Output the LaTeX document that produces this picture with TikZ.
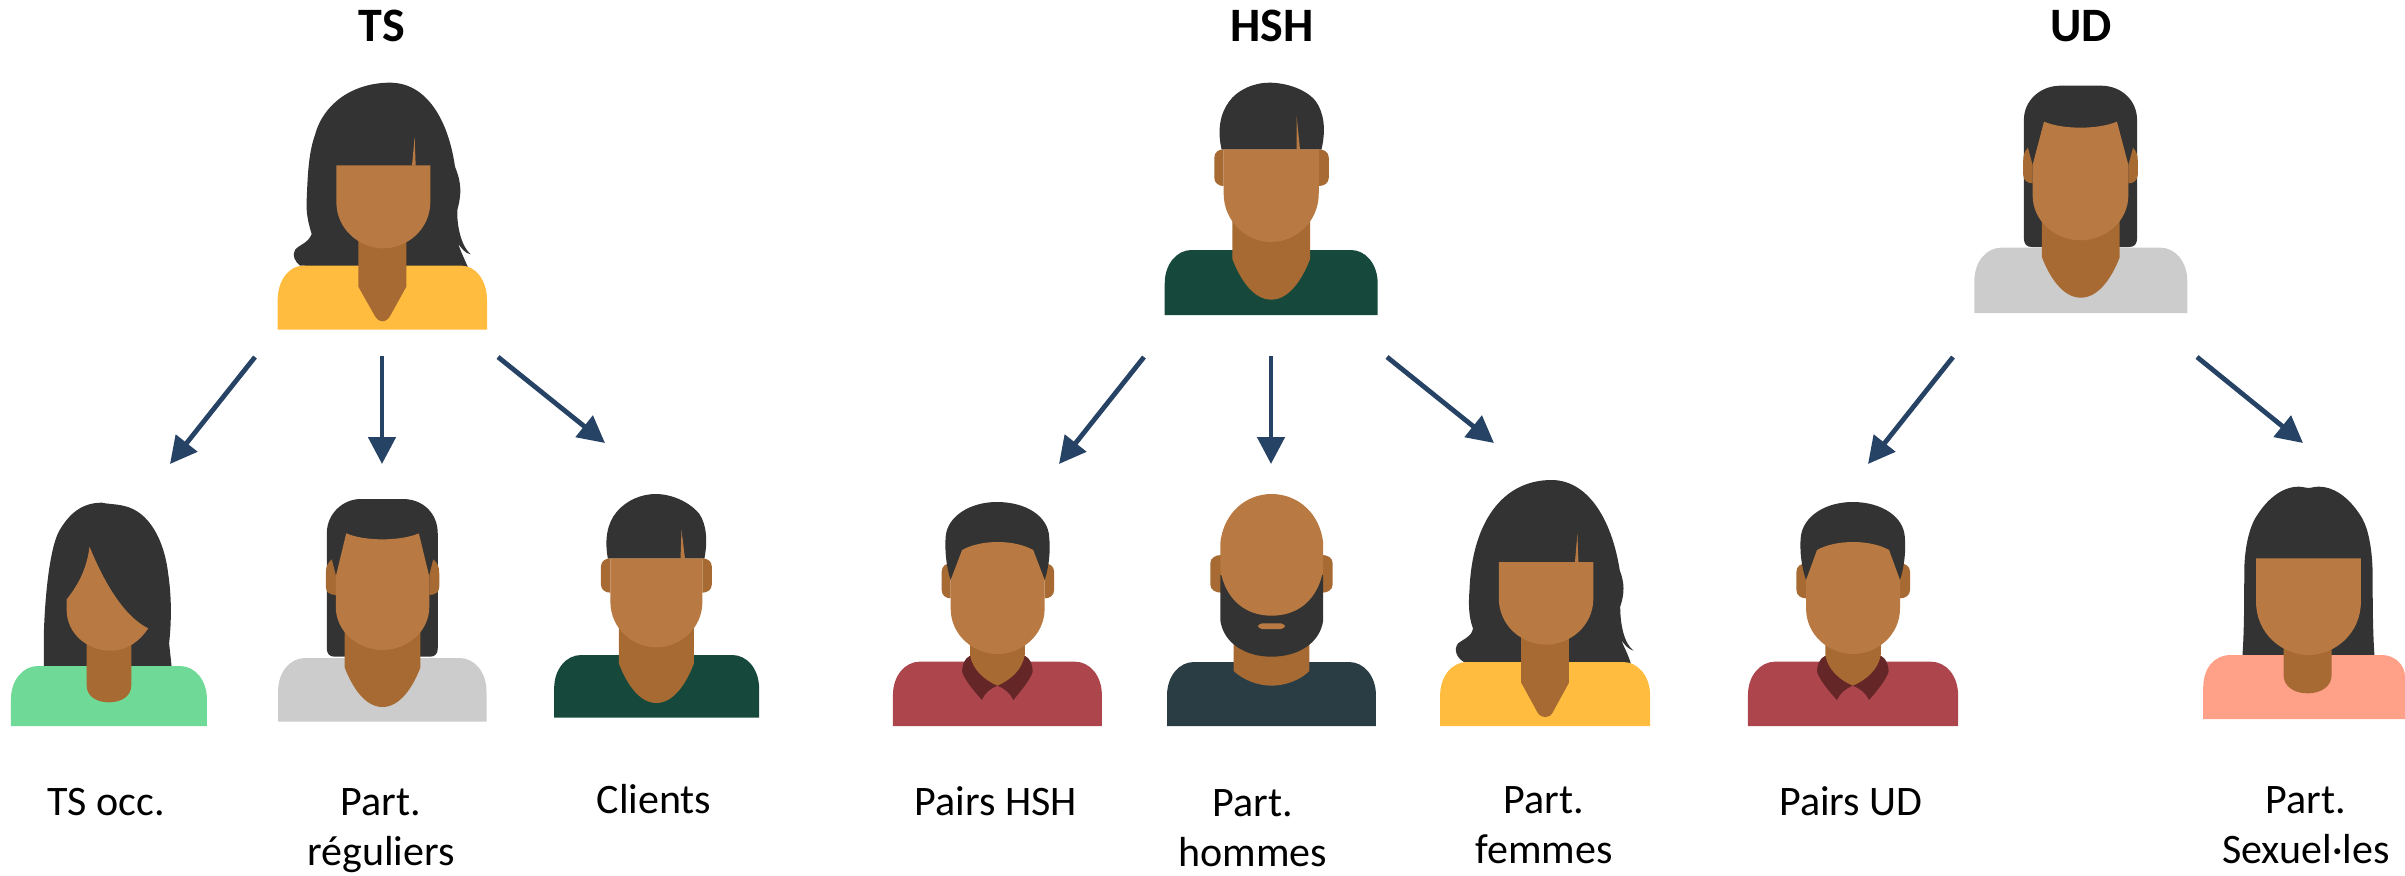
\documentclass[tikz,border=0pt]{standalone}
\usepackage{fontspec}
\setmainfont{Carlito}
\usetikzlibrary{arrows.meta}
\definecolor{hair}{HTML}{333333}
\definecolor{skin}{HTML}{B87A42}
\definecolor{neck}{HTML}{A66A32}
\definecolor{yellowtop}{HTML}{FFBC3E}
\definecolor{greentop}{HTML}{6FDA97}
\definecolor{greytop}{HTML}{CCCCCC}
\definecolor{pinetop}{HTML}{16493C}
\definecolor{redtop}{HTML}{AD464C}
\definecolor{collar}{HTML}{642626}
\definecolor{navytop}{HTML}{2A3D44}
\definecolor{pinktop}{HTML}{FFA088}
\definecolor{arrowblue}{HTML}{264365}
\tikzset{
  zoomA/.style={shift={(240,60)},xscale=.33333,yscale=.33333},
  zoomB/.style={shift={(0,480)},xscale=.49745,yscale=.33333},
  zoomC/.style={shift={(880,480)},xscale=.49745,yscale=.33333},
  zoomD/.style={shift={(1720,480)},xscale=.43686,yscale=.33333},
  zoomE/.style={shift={(1150,60)},xscale=.66964,yscale=.33333},
  hairfill/.style={fill=hair},
  skinfill/.style={fill=skin},
  neckfill/.style={fill=neck},
  link/.style={draw=arrowblue,line width=2.4pt,-{Triangle[length=13.4pt,width=13.4pt]},fill=arrowblue},
  label/.style={font=\fontsize{21}{25}\selectfont,align=center,anchor=base,inner sep=0pt},
  title/.style={font=\fontsize{24}{28}\selectfont\bfseries,anchor=base,inner sep=0pt}
}
% shirt: colour, left, right, top, bottom, corner-x, corner-y
\newcommand{\shirtshape}[7]{\fill[#1] (#2,#5) -- (#2,{#4+#7}) .. controls (#2,{#4+.42*#7}) and ({#2+.45*#6},#4) .. ({#2+#6},#4) -- ({#3-#6},#4) .. controls ({#3-.45*#6},#4) and (#3,{#4+.42*#7}) .. (#3,{#4+#7}) -- (#3,#5) -- cycle;}
% ear: near x, far x, top, bottom
\newcommand{\earshape}[4]{\fill[neckfill] (#1,#3) .. controls ({.5*(#1+#2)},#3) and (#2,{#3+8}) .. (#2,{#3+25}) -- (#2,{#4-25}) .. controls (#2,{#4-8}) and ({.5*(#1+#2)},#4) .. (#1,#4) -- cycle;}
% pointed neck: left, right, top, shoulder y, tip y
\newcommand{\vneck}[5]{\fill[neckfill] (#1,#3) -- (#1,#4) .. controls ({#1+.1*(#2-#1)},{#4+.5*(#5-#4)}) and ({#1+.27*(#2-#1)},#5) .. ({.5*(#1+#2)},#5) .. controls ({#2-.27*(#2-#1)},#5) and ({#2-.1*(#2-#1)},{#4+.5*(#5-#4)}) .. (#2,#4) -- (#2,#3) -- cycle;}
% flat-top face: left, right, top, straight until, bottom
\newcommand{\flatface}[5]{\fill[skinfill] (#1,#3) -- (#2,#3) -- (#2,#4) .. controls (#2,{#4+.6*(#5-#4)}) and ({#2-.25*(#2-#1)},#5) .. ({.5*(#1+#2)},#5) .. controls ({#1+.25*(#2-#1)},#5) and (#1,{#4+.6*(#5-#4)}) .. (#1,#4) -- cycle;}
% face under a curved hairline: left, right, tips y, notch-x inset, notch y, hairline control y, straight until, bottom
\newcommand{\notchface}[8]{\fill[skinfill] (#1,#3) -- ({#1+#4},#5) .. controls ({#1+#4+.2*(#2-#1)},#6) and ({#2-#4-.2*(#2-#1)},#6) .. ({#2-#4},#5) -- (#2,#3) -- (#2,#7) .. controls (#2,{#7+.6*(#8-#7)}) and ({#2-.25*(#2-#1)},#8) .. ({.5*(#1+#2)},#8) .. controls ({#1+.25*(#2-#1)},#8) and (#1,{#7+.6*(#8-#7)}) .. (#1,#7) -- cycle;}
\begin{document}
\begin{tikzpicture}[x=.5pt,y=-.5pt]
\useasboundingbox (0,0) rectangle (2405,875);

% --- TS (top left)
\begin{scope}[zoomA]
\fill[hairfill] (180,617) .. controls (165,605) and (155,585) .. (165,570) .. controls (175,555) and (205,550) .. (215,522) .. controls (205,490) and (198,460) .. (200,420) .. controls (203,350) and (205,280) .. (225,225) .. controls (250,130) and (340,68) .. (450,68) .. controls (560,68) and (625,180) .. (645,320) .. controls (665,370) and (665,400) .. (652,450) .. controls (650,500) and (665,560) .. (692,583) .. controls (675,580) and (665,565) .. (655,552) .. controls (662,575) and (675,600) .. (685,625) -- cycle;
\shirtshape{yellowtop}{113}{741}{617}{809}{77}{103}
\fill[neckfill] (355,500) -- (355,680) -- (403,765) .. controls (415,790) and (440,790) .. (452,765) -- (499,680) -- (499,500) -- cycle;
\flatface{289}{571}{316}{425}{565}
\fill[skinfill] (524,230) -- (516,317) -- (527,317) -- cycle;
\end{scope}

% --- TS occ.
\begin{scope}[zoomB]
\fill[hairfill] (88,560) -- (88,470) .. controls (90,350) and (100,200) .. (120,150) .. controls (140,100) and (165,68) .. (205,68) .. controls (215,72) and (235,72) .. (250,78) .. controls (300,95) and (330,180) .. (338,280) .. controls (345,350) and (345,420) .. (340,490) -- (345,560) -- cycle;
\shirtshape{greentop}{22}{416}{558}{738}{54}{100}
\fill[neckfill] (174,470) -- (174,615) .. controls (174,650) and (195,667) .. (219,667) .. controls (243,667) and (264,650) .. (264,615) -- (264,470) -- cycle;
\fill[skinfill] (180,200) .. controls (175,260) and (160,310) .. (134,358) -- (134,390) .. controls (134,460) and (175,512) .. (222,512) .. controls (255,512) and (280,485) .. (298,445) .. controls (250,410) and (210,310) .. (180,200) -- cycle;
\end{scope}

% --- Part. reguliers
\begin{scope}[zoomB]
\fill[hairfill] (657,505) -- (657,160) .. controls (657,100) and (690,57) .. (725,57) -- (810,57) .. controls (850,57) and (880,100) .. (880,160) -- (880,505) .. controls (880,520) and (875,530) .. (865,530) -- (672,530) .. controls (662,530) and (657,520) .. (657,505) -- cycle;
\shirtshape{greytop}{559}{978}{534}{725}{54}{100}
\fill[neckfill] (667,238) .. controls (658,250) and (655,260) .. (655,280) -- (655,320) .. controls (655,335) and (662,345) .. (675,345) -- (675,285) -- cycle;
\fill[neckfill] (871,238) .. controls (880,250) and (883,260) .. (883,280) -- (883,320) .. controls (883,335) and (876,345) .. (863,345) -- (863,285) -- cycle;
\vneck{693}{845}{440}{563}{681}
\notchface{675}{863}{290}{21}{160}{184}{380}{510}
\end{scope}

% --- Clients
\begin{scope}[zoomB]
\fill[hairfill] (1222,236) .. controls (1215,180) and (1220,130) .. (1240,95) .. controls (1260,60) and (1290,42) .. (1318,42) .. controls (1350,42) and (1385,65) .. (1405,100) .. controls (1422,135) and (1422,190) .. (1416,236) -- cycle;
\shirtshape{pinetop}{1114}{1526}{525}{713}{54}{100}
\earshape{1227}{1208}{235}{338}
\earshape{1412}{1431}{235}{338}
\vneck{1244}{1395}{440}{550}{669}
\flatface{1227}{1412}{235}{365}{502}
\fill[skinfill] (1370,150) -- (1368,236) -- (1377,236) -- cycle;
\end{scope}

% --- HSH (top middle)
\begin{scope}[zoomE]
\fill[hairfill] (107,269) .. controls (100,210) and (105,160) .. (118,125) .. controls (130,90) and (155,68) .. (178,68) .. controls (205,68) and (235,90) .. (248,125) .. controls (260,160) and (263,210) .. (256,269) -- cycle;
\shirtshape{pinetop}{22}{340}{570}{765}{40}{100}
\earshape{110}{96}{268}{378}
\earshape{252}{267}{268}{378}
\vneck{123}{239}{450}{597}{719}
\flatface{110}{252}{268}{400}{546}
\fill[skinfill] (219,170) -- (219,269) -- (224,269) -- cycle;
\end{scope}

% --- UD (top right)
\begin{scope}[zoomE]
\fill[hairfill] (1305,535) -- (1305,180) .. controls (1305,120) and (1330,77) .. (1360,77) -- (1420,77) .. controls (1450,77) and (1474,120) .. (1474,180) -- (1474,535) .. controls (1474,552) and (1470,561) .. (1462,561) -- (1317,561) .. controls (1309,561) and (1305,552) .. (1305,535) -- cycle;
\shirtshape{greytop}{1231}{1549}{563}{759}{40}{100}
\fill[neckfill] (1311,263) .. controls (1306,275) and (1304,285) .. (1304,300) -- (1304,345) .. controls (1304,360) and (1310,370) .. (1318,370) -- (1318,315) -- cycle;
\fill[neckfill] (1468,263) .. controls (1473,275) and (1475,285) .. (1475,300) -- (1475,345) .. controls (1475,360) and (1469,370) .. (1461,370) -- (1461,315) -- cycle;
\vneck{1332}{1448}{450}{592}{713}
\notchface{1318}{1461}{315}{17}{185}{209}{405}{541}
\end{scope}

% --- Pairs HSH
\begin{scope}[zoomC]
\shirtshape{redtop}{26}{446}{545}{738}{54}{100}
\fill[collar] (180,528) .. controls (170,535) and (165,555) .. (165,575) .. controls (170,600) and (190,635) .. (205,660) .. controls (210,640) and (222,625) .. (236,617) .. controls (250,625) and (262,640) .. (268,660) .. controls (282,635) and (302,600) .. (307,575) .. controls (307,555) and (302,535) .. (292,528) -- cycle;
\fill[neckfill] (181,480) -- (181,525) .. controls (186,570) and (210,600) .. (236,617) .. controls (262,600) and (286,570) .. (291,525) -- (291,480) -- cycle;
\earshape{142}{124}{250}{355}
\earshape{331}{350}{250}{355}
\fill[hairfill] (142,300) .. controls (133,260) and (130,210) .. (132,170) .. controls (135,110) and (180,66) .. (235,66) .. controls (295,66) and (338,110) .. (340,170) .. controls (343,210) and (340,260) .. (331,300) -- (300,300) -- (170,300) -- cycle;
\notchface{142}{331}{300}{23}{210}{178}{385}{522}
\end{scope}

% --- Part. hommes
\begin{scope}[zoomC]
\shirtshape{navytop}{577}{997}{546}{738}{54}{100}
\fill[neckfill] (711,480) -- (711,573) .. controls (730,600) and (760,617) .. (787,617) .. controls (815,617) and (845,600) .. (863,573) -- (863,480) -- cycle;
\earshape{686}{664}{225}{338}
\earshape{889}{910}{225}{338}
\fill[hairfill] (684,285) -- (684,420) .. controls (690,490) and (735,530) .. (787,530) .. controls (840,530) and (885,490) .. (891,420) -- (891,285) -- cycle;
\fill[skinfill] (684,190) .. controls (690,100) and (735,42) .. (787,42) .. controls (840,42) and (885,100) .. (891,190) -- (891,270) .. controls (880,360) and (840,407) .. (787,407) .. controls (735,407) and (695,360) .. (684,270) -- cycle;
\fill[skinfill,rounded corners=2pt] (760,430) rectangle (814,447);
\end{scope}

% --- Part. femmes
\begin{scope}[zoomC]
\fill[hairfill] (1175,547) .. controls (1160,535) and (1152,510) .. (1162,490) .. controls (1172,478) and (1190,470) .. (1192,445) .. controls (1183,410) and (1183,370) .. (1185,330) .. controls (1190,130) and (1250,0) .. (1350,0) .. controls (1420,0) and (1470,110) .. (1487,270) .. controls (1497,310) and (1497,340) .. (1488,380) .. controls (1488,430) and (1495,490) .. (1515,512) .. controls (1505,508) and (1497,495) .. (1490,480) .. controls (1495,500) and (1505,525) .. (1510,555) -- cycle;
\shirtshape{yellowtop}{1126}{1548}{546}{738}{54}{100}
\fill[neckfill] (1289,470) -- (1289,608) -- (1322,698) .. controls (1330,716) and (1345,716) .. (1352,698) -- (1385,608) -- (1385,470) -- cycle;
\flatface{1244}{1434}{246}{355}{494}
\fill[skinfill] (1402,160) -- (1397,247) -- (1404,247) -- cycle;
\end{scope}

% --- Pairs UD
\begin{scope}[zoomD]
\shirtshape{redtop}{64}{545}{545}{738}{62}{100}
\fill[collar] (240,528) .. controls (228,535) and (222,555) .. (222,575) .. controls (228,600) and (250,635) .. (268,660) .. controls (274,640) and (288,625) .. (304,617) .. controls (320,625) and (335,640) .. (341,660) .. controls (358,635) and (380,600) .. (386,575) .. controls (386,555) and (380,535) .. (369,528) -- cycle;
\fill[neckfill] (241,480) -- (241,525) .. controls (247,570) and (274,600) .. (304,617) .. controls (334,600) and (362,570) .. (368,525) -- (368,480) -- cycle;
\earshape{197}{175}{250}{355}
\earshape{412}{435}{250}{355}
\fill[hairfill] (197,300) .. controls (186,260) and (182,210) .. (185,170) .. controls (190,110) and (240,66) .. (304,66) .. controls (370,66) and (420,110) .. (423,170) .. controls (426,210) and (422,260) .. (412,300) -- (380,300) -- (230,300) -- cycle;
\notchface{197}{412}{300}{25}{210}{178}{385}{522}
\end{scope}

% --- Part. Sexuel.les
\begin{scope}[zoomD]
\fill[hairfill] (1196,525) .. controls (1200,450) and (1200,350) .. (1200,280) .. controls (1200,210) and (1210,150) .. (1225,115) .. controls (1250,60) and (1285,20) .. (1325,20) .. controls (1335,20) and (1340,24) .. (1347,24) .. controls (1352,24) and (1360,20) .. (1370,20) .. controls (1410,20) and (1445,60) .. (1470,115) .. controls (1485,150) and (1493,210) .. (1494,280) .. controls (1494,350) and (1494,450) .. (1498,525) -- cycle;
\fill[pinktop] (1106,717) -- (1106,625) .. controls (1106,565) and (1130,525) .. (1170,525) -- (1515,525) .. controls (1545,525) and (1568,555) .. (1568,590) -- (1568,717) -- cycle;
\fill[neckfill] (1290,480) -- (1290,585) .. controls (1290,620) and (1315,640) .. (1345,640) .. controls (1375,640) and (1400,620) .. (1400,585) -- (1400,480) -- cycle;
\flatface{1227}{1467}{235}{365}{525}
\end{scope}

% --- titles
\node[title] (tTS)  at (382,41)  {TS};
\node[title] (tHSH) at (1272,41) {HSH};
\node[title] (tUD)  at (2081,41) {UD};

% --- labels (anchored on the last line's baseline)
\node[label] (lOcc)  at (106,815)  {TS occ.};
\node[label] (lReg)  at (381,865)  {Part.\\réguliers};
\node[label] (lCli)  at (654,813)  {Clients};
\node[label] (lPHSH) at (996,815)  {Pairs HSH};
\node[label] (lHom)  at (1253,866) {Part.\\hommes};
\node[label] (lFem)  at (1544,863) {Part.\\femmes};
\node[label] (lPUD)  at (1851,815) {Pairs UD};
\node[label] (lSex)  at (2306,863) {Part.\\Sexuel·les};

% --- connector ends
\coordinate (tsA) at (255,357);   \coordinate (occ) at (170,464);
\coordinate (tsB) at (382,356);   \coordinate (reg) at (382,464);
\coordinate (tsC) at (498,357);   \coordinate (cli) at (605,443);
\coordinate (hsA) at (1144,357);  \coordinate (pai) at (1059,464);
\coordinate (hsB) at (1271,356);  \coordinate (hom) at (1271,464);
\coordinate (hsC) at (1387,357);  \coordinate (fem) at (1494,443);
\coordinate (udA) at (1953,357);  \coordinate (pud) at (1868,464);
\coordinate (udC) at (2197,357);  \coordinate (sex) at (2303,443);

\draw[link] (tsA) -- (occ);
\draw[link] (tsB) -- (reg);
\draw[link] (tsC) -- (cli);
\draw[link] (hsA) -- (pai);
\draw[link] (hsB) -- (hom);
\draw[link] (hsC) -- (fem);
\draw[link] (udA) -- (pud);
\draw[link] (udC) -- (sex);
\end{tikzpicture}
\end{document}
